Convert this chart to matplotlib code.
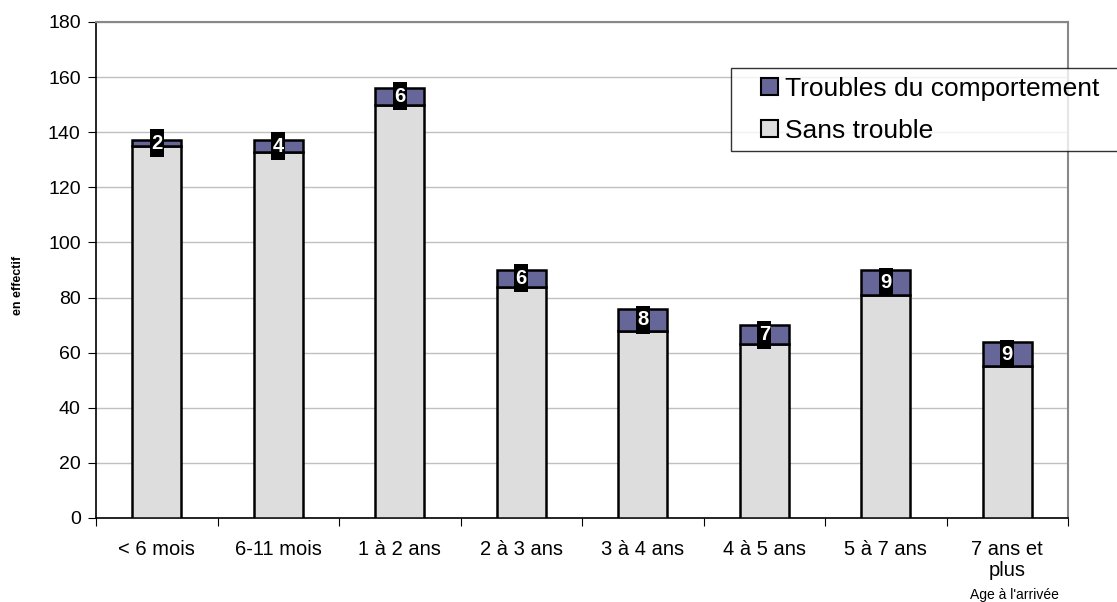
import matplotlib
matplotlib.use("Agg")
import matplotlib.pyplot as plt
from matplotlib.patches import Rectangle, Patch
from matplotlib.path import Path
from matplotlib.legend_handler import HandlerPatch
import numpy as np

plt.rcParams['font.family'] = ['Liberation Sans', 'DejaVu Sans']

categories = ["< 6 mois", "6-11 mois", "1 à 2 ans", "2 à 3 ans", "3 à 4 ans",
              "4 à 5 ans", "5 à 7 ans", "7 ans et\nplus"]
sans_trouble = [135, 133, 150, 84, 68, 63, 81, 55]
troubles = [2, 4, 6, 6, 8, 7, 9, 9]

COL_SANS = '#dddddd'
COL_TROUBLE = '#666699'

W, H = 1117, 602
fig = plt.figure(figsize=(W/100, H/100), dpi=100)
L, R, T, B = 96, 1068, 22, 518
ax = fig.add_axes([L/W, 1-B/H, (R-L)/W, (B-T)/H])

x = np.arange(len(categories))
w = 0.40
ax.bar(x, sans_trouble, w, color=COL_SANS, edgecolor='black', linewidth=1.8, zorder=3)
ax.bar(x, troubles, w, bottom=sans_trouble, color=COL_TROUBLE, edgecolor='black',
       linewidth=1.8, zorder=3)


class TallBox:
    def __init__(self, padx=0.07, pady=0.22):
        self.padx = padx
        self.pady = pady

    def __call__(self, x0, y0, width, height, mutation_size):
        px = self.padx * mutation_size
        py = self.pady * mutation_size
        x0, y0 = x0 - px, y0 - py
        x1, y1 = x0 + width + 2 * px, y0 + height + 2 * py
        return Path([(x0, y0), (x1, y0), (x1, y1), (x0, y1), (x0, y0)], closed=True)


for xi, b, t in zip(x, sans_trouble, troubles):
    ax.text(xi, b + t/2, str(t), ha='center', va='center', color='white',
            fontsize=14.5, fontweight='bold', zorder=5,
            bbox=dict(boxstyle=TallBox(), facecolor='black', edgecolor='none'))

ax.set_xlim(-0.5, len(categories)-0.5)
ax.set_ylim(0, 180)
ax.set_yticks(range(0, 181, 20))
ax.tick_params(axis='y', labelsize=14, length=6, pad=5, direction='out', color='black')
ax.set_xticks(np.arange(-0.5, len(categories), 1), minor=False)
ax.set_xticklabels([])
ax.set_xticks(x, minor=True)
ax.set_xticklabels(categories, minor=True, fontsize=14.5, linespacing=1.15)
ax.tick_params(axis='x', which='major', length=6, direction='out')
ax.tick_params(axis='x', which='minor', length=0, pad=16)
ax.grid(axis='y', color='#c0c0c0', linewidth=1, zorder=0)
for s in ['top', 'right']:
    ax.spines[s].set_color('#888888')
    ax.spines[s].set_linewidth(1.5)
for s in ['left', 'bottom']:
    ax.spines[s].set_color('black')
    ax.spines[s].set_linewidth(1.2)

fig.text(18/W, 1-285/H, 'en effectif', fontsize=9, fontweight='bold',
         rotation=90, ha='center', va='center')
fig.text(1014/W, 1-595/H, "Age à l'arrivée", fontsize=10, ha='center', va='center')


class SquareHandler(HandlerPatch):
    def create_artists(self, legend, orig_handle, xdescent, ydescent, width,
                       height, fontsize, trans):
        s = 12.0
        p = Rectangle((width - s - xdescent, (height - s) / 2 - ydescent), s, s,
                      facecolor=orig_handle.get_facecolor(), edgecolor='black',
                      linewidth=1.5, transform=trans)
        return [p]


handles = [Patch(facecolor=COL_TROUBLE, edgecolor='black'),
           Patch(facecolor=COL_SANS, edgecolor='black')]
labels = ['Troubles du comportement', 'Sans trouble']
leg = ax.legend(handles, labels, loc='upper left',
                bbox_to_anchor=(731/W, 1-150/H, 420/W, 82/H),
                bbox_transform=fig.transFigure, mode='expand',
                fontsize=19, frameon=True, fancybox=False,
                edgecolor='black', handlelength=1.45, handleheight=0.7,
                handletextpad=0.25, labelspacing=0.68, borderpad=0.33,
                borderaxespad=0,
                handler_map={Patch: SquareHandler()})
leg.get_frame().set_linewidth(1)
leg.set_zorder(10)

fig.savefig('out.png', dpi=100)
